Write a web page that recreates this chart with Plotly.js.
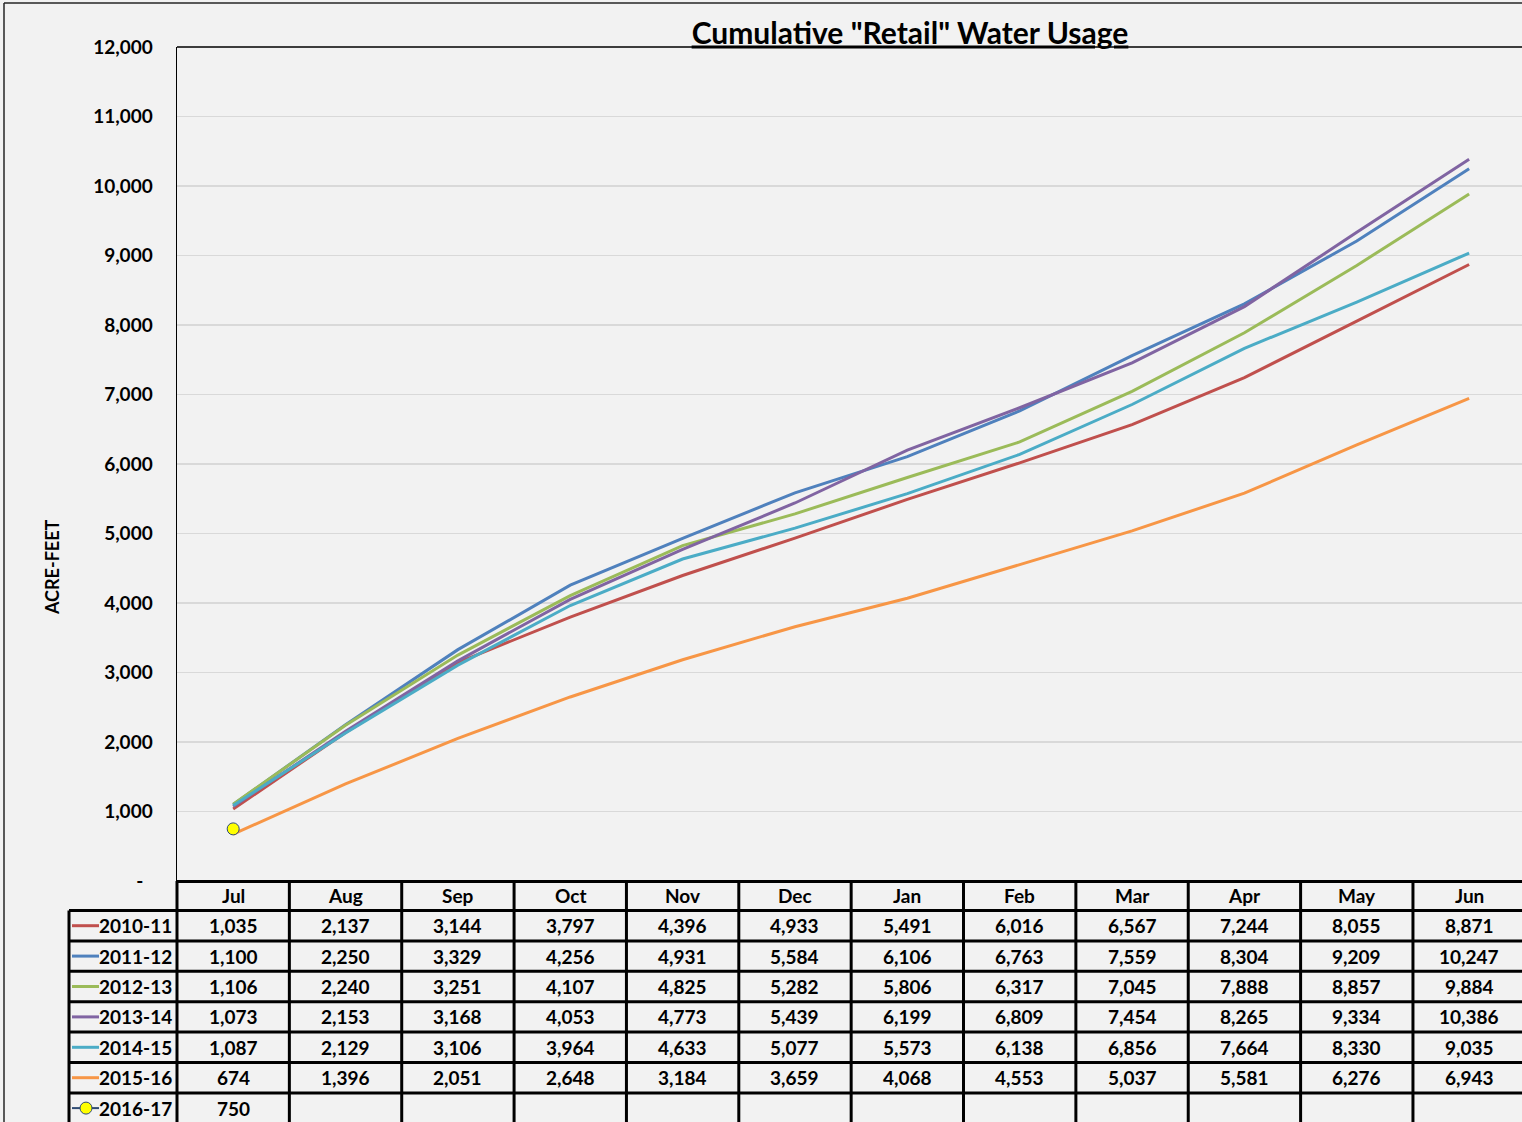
<!DOCTYPE html>
<html><head><meta charset="utf-8">
<script src="https://cdn.plot.ly/plotly-3.0.1.min.js"></script>
<style>html,body{margin:0;padding:0;background:#f2f2f2;overflow:hidden}</style>
</head><body><div id="chart" style="width:1522px;height:1122px"></div>
<script>
// ---- data ----
const months = ['Jul','Aug','Sep','Oct','Nov','Dec','Jan','Feb','Mar','Apr','May','Jun'];
const seasons = ['2010-11','2011-12','2012-13','2013-14','2014-15','2015-16','2016-17'];
const s2010_11 = [1035,2137,3144,3797,4396,4933,5491,6016,6567,7244,8055,8871];
const s2011_12 = [1100,2250,3329,4256,4931,5584,6106,6763,7559,8304,9209,10247];
const s2012_13 = [1106,2240,3251,4107,4825,5282,5806,6317,7045,7888,8857,9884];
const s2013_14 = [1073,2153,3168,4053,4773,5439,6199,6809,7454,8265,9334,10386];
const s2014_15 = [1087,2129,3106,3964,4633,5077,5573,6138,6856,7664,8330,9035];
const s2015_16 = [674,1396,2051,2648,3184,3659,4068,4553,5037,5581,6276,6943];
const s2016_17 = [750];
const yTickVals = [0,1000,2000,3000,4000,5000,6000,7000,8000,9000,10000,11000,12000];
const yTickText = ['-\u00A0\u00A0','1,000','2,000','3,000','4,000','5,000','6,000','7,000','8,000','9,000','10,000','11,000','12,000'];
const chartTitle = 'Cumulative "Retail" Water Usage';
const yTitle = 'ACRE-FEET';

const series = [s2010_11,s2011_12,s2012_13,s2013_14,s2014_15,s2015_16,s2016_17];
const colors = ['#C0504D','#4F81BD','#9BBB59','#8064A2','#4BACC6','#F79646','#2F4B73'];

// ---- geometry (pixels) ----
const W = 1522, H = 1122, L = 177, T = 47, B = 881;
const PW = W - L, PH = B - T;
const colW = 112.36;
const px = x => (x - L) / PW;
const py = y => (B - y) / PH;
const headBottom = 910.5, rowH = 30.4;
const fmt = v => v.toLocaleString('en-US');

// ---- traces ----
const traces = series.map((vals, i) => {
  const last = i === series.length - 1;
  const t = {
    type: 'scatter',
    x: months.slice(0, vals.length),
    y: vals,
    name: seasons[i],
    mode: last ? 'lines+markers' : 'lines',
    line: {color: colors[i], width: last ? 1.5 : 3},
    hoverinfo: 'x+y+name'
  };
  if (last) t.marker = {size: 12, color: '#FFFF00', line: {color: colors[i], width: 1}};
  return t;
});

// ---- table shapes & annotations ----
const shapes = [];
const annotations = [];
const thick = {color: '#000', width: 3};

shapes.push({type: 'line', xref: 'paper', yref: 'paper', x0: 0, x1: 1.02, y0: 1, y1: 1, line: {color: '#000', width: 1.5}});
shapes.push({type: 'line', xref: 'paper', yref: 'paper', x0: px(4), x1: 1.05, y0: py(3), y1: py(3), line: {color: '#262626', width: 1.5}});
shapes.push({type: 'line', xref: 'paper', yref: 'paper', x0: px(4), x1: px(4), y0: py(3), y1: py(H + 5), line: {color: '#262626', width: 1.5}});

shapes.push({type: 'line', xref: 'paper', yref: 'paper', x0: px(L), x1: 1.05, y0: py(881.5), y1: py(881.5), line: thick});
for (let k = 0; k < seasons.length; k++) {
  const y = headBottom + k * rowH;
  shapes.push({type: 'line', xref: 'paper', yref: 'paper', x0: px(69), x1: 1.05, y0: py(y), y1: py(y), line: thick});
}
shapes.push({type: 'line', xref: 'paper', yref: 'paper', x0: px(L), x1: px(L), y0: py(881), y1: py(H + 5), line: thick});
shapes.push({type: 'line', xref: 'paper', yref: 'paper', x0: px(69), x1: px(69), y0: py(headBottom), y1: py(H + 5), line: thick});
for (let i = 0; i < months.length; i++) {
  const xp = px(L + (i + 1) * colW);
  shapes.push({type: 'line', xref: 'paper', yref: 'paper', x0: xp, x1: xp, y0: py(881), y1: py(H + 5), line: thick});
}

months.forEach((m, i) => {
  annotations.push({xref: 'x', yref: 'paper', x: i, y: py(895.5), text: m, showarrow: false, xanchor: 'center', yanchor: 'middle'});
});
series.forEach((vals, r) => {
  const cy = headBottom + r * rowH + rowH / 2;
  annotations.push({xref: 'paper', yref: 'paper', x: px(174), y: py(cy), text: seasons[r], showarrow: false, xanchor: 'right', yanchor: 'middle'});
  vals.forEach((v, i) => {
    annotations.push({xref: 'x', yref: 'paper', x: i, y: py(cy), text: fmt(v), showarrow: false, xanchor: 'center', yanchor: 'middle'});
  });
  const last = r === series.length - 1;
  shapes.push({type: 'line', xref: 'paper', yref: 'paper', x0: px(72), x1: px(99), y0: py(cy), y1: py(cy), line: {color: colors[r], width: last ? 2 : 3}});
  if (last) {
    shapes.push({type: 'circle', xref: 'paper', yref: 'paper', x0: px(80), x1: px(92), y0: py(cy + 6), y1: py(cy - 6), fillcolor: '#FFFF00', line: {color: colors[r], width: 1}});
  }
});
// y-axis title (centred on the whole chart height, as in the source)
annotations.push({xref: 'paper', yref: 'paper', x: px(52), y: py(567), text: yTitle, textangle: -90, showarrow: false,
                  xanchor: 'center', yanchor: 'middle', font: {size: 18, weight: 700}});

const layout = {
  width: W, height: H,
  margin: {l: L, r: 0, t: T, b: H - B, pad: 0},
  paper_bgcolor: '#f2f2f2', plot_bgcolor: '#f2f2f2',
  font: {family: 'Lato, "DejaVu Sans", sans-serif', size: 19, color: '#000', weight: 700},
  showlegend: false,
  title: {
    text: '<u>' + chartTitle + '</u>',
    xref: 'container', x: 910 / W, xanchor: 'center',
    yref: 'container', y: 1 - 33 / H, yanchor: 'middle',
    font: {size: 30, weight: 700, color: '#000'}
  },
  xaxis: {type: 'category', range: [-0.5, -0.5 + PW / colW], showticklabels: false, showgrid: false,
          zeroline: false, showline: false, ticks: '', fixedrange: true},
  yaxis: {range: [0, 12000], tickvals: yTickVals, ticktext: yTickText, showline: true, linecolor: '#000',
          linewidth: 1.5, showgrid: true, gridcolor: '#d9d9d9', gridwidth: 1.5, zeroline: false, ticks: '',
          ticklabelstandoff: 19, fixedrange: true},
  shapes: shapes,
  annotations: annotations
};

Plotly.newPlot('chart', traces, layout, {displayModeBar: false, staticPlot: true});
</script>
</body></html>
